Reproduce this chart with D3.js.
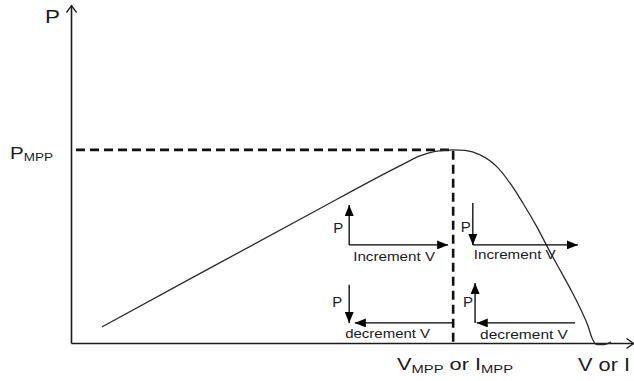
<!DOCTYPE html>
<html>
<head>
<meta charset="utf-8">
<script src="https://cdn.jsdelivr.net/npm/d3@7"></script>
<style>
  html, body { margin: 0; padding: 0; background: #fff; }
  svg { display: block; font-family: "Liberation Sans", Arial, sans-serif; }
</style>
</head>
<body>
<svg id="chart" width="634" height="381"></svg>
<script>
// P–V characteristic of a PV source, with the hill-climbing rules around the MPP
const voltage = [5.5, 22.9, 42.5, 58.5, 62.1, 64.8, 68.0, 70.1, 72.8, 75.8, 78.1, 80.4,
                 82.9, 85.05, 87.2, 89.15, 90.75, 92.0, 92.7, 93.6, 94.8, 96.1];
const power   = [8.3, 35.9, 66.8, 91.7, 96.9, 99.2, 100, 99.7, 97.4, 91.2, 82.9, 72.5,
                 60.1, 48.2, 36.8, 26.4, 17.1, 8.8, 2.6, -0.8, -0.8, 0.5];
const vMpp = 68.0;
const pMpp = 100;
const stepTexts = ["Increment V", "Increment V", "decrement V", "decrement V"];

const svg = d3.select("#chart");
const ink = "#1c1c1c";

const x = d3.scaleLinear().domain([0, 100]).range([71, 633]);
const y = d3.scaleLinear().domain([0, 175]).range([343, 5]);

// markers: open chevrons for the axes, filled heads for the step arrows
const defs = svg.append("defs");
defs.append("marker").attr("id", "chev")
  .attr("markerUnits", "userSpaceOnUse")
  .attr("markerWidth", 14).attr("markerHeight", 14)
  .attr("refX", 8).attr("refY", 6).attr("orient", "auto")
  .append("path").attr("d", "M1,1L8,6L1,11")
  .attr("fill", "none").attr("stroke", ink).attr("stroke-width", 1.3);
defs.append("marker").attr("id", "head")
  .attr("markerUnits", "userSpaceOnUse")
  .attr("markerWidth", 12).attr("markerHeight", 9)
  .attr("refX", 11).attr("refY", 4.5).attr("orient", "auto")
  .append("path").attr("d", "M0,0L11,4.5L0,9Z").attr("fill", "#000");

// axes without ticks, just the arrows
const xAxis = svg.append("g").attr("transform", `translate(0,${y(0)})`)
  .call(d3.axisBottom(x).tickValues([]).tickSizeOuter(0));
const yAxis = svg.append("g").attr("transform", `translate(${x(0)},0)`)
  .call(d3.axisLeft(y).tickValues([]).tickSizeOuter(0));
[xAxis, yAxis].forEach(g => g.select(".domain")
  .attr("stroke", ink).attr("stroke-width", 1.6)
  .attr("marker-end", "url(#chev)"));

// MPP guide lines
svg.append("path")
  .attr("d", `M${x(0) + 5},${y(pMpp)}H${x(vMpp)}V${y(0)}`)
  .attr("fill", "none").attr("stroke", "#111")
  .attr("stroke-width", 2.6).attr("stroke-dasharray", "9,5");

// P–V curve
const pts = voltage.map((v, i) => [v, power[i]]);
svg.append("path").datum(pts)
  .attr("d", d3.line().x(d => x(d[0])).y(d => y(d[1])).curve(d3.curveMonotoneX))
  .attr("fill", "none").attr("stroke", "#2a2a2a").attr("stroke-width", 1.3);

// step arrows: vertical (change in P) and horizontal (change in V)
const steps = [
  { vert: [[49.5, 50.8], [49.5, 71.5]], horiz: [[49.5, 50.8], [67.1, 50.8]],
    p: [-6, -12], t: [4, 16], w: 82 },
  { vert: [[71.5, 72.5], [71.5, 50.8]], horiz: [[71.5, 50.8], [90.2, 50.8]],
    p: [-2, -13], t: [1, 14], w: 82 },
  { vert: [[49.5, 30.1], [49.5, 10.4]], horiz: [[68.0, 10.4], [50.5, 10.4]],
    p: [-7, -16], t: [-4, 15], w: 85 },
  { vert: [[71.9, 10.4], [71.9, 31.1]], horiz: [[89.7, 10.4], [72.2, 10.4]],
    p: [-2, -16], t: [5, 16], w: 88 }
];

function fitText(sel, width) {
  const n = sel.node().getComputedTextLength();
  return width / n;
}

steps.forEach((s, i) => {
  const g = svg.append("g");
  [s.vert, s.horiz].forEach(seg => {
    g.append("line")
      .attr("x1", x(seg[0][0])).attr("y1", y(seg[0][1]))
      .attr("x2", x(seg[1][0])).attr("y2", y(seg[1][1]))
      .attr("stroke", "#000").attr("stroke-width", 1.3)
      .attr("marker-end", "url(#head)");
  });
  const cx = x(s.vert[0][0]);
  const cy = y(s.horiz[0][1]);
  g.append("text").attr("x", cx + s.p[0]).attr("y", cy + s.p[1])
    .attr("text-anchor", "end").attr("font-size", 15).attr("fill", ink).text("P");
  const t = g.append("text").attr("font-size", 13).attr("fill", ink).text(stepTexts[i]);
  const k = fitText(t, s.w);
  t.attr("transform", `translate(${cx + s.t[0]},${cy + s.t[1]}) scale(${k},1)`);
});

// labels with subscripts
function label(parts, px, py, size, subSize, subDy, width) {
  const t = svg.append("text").attr("font-size", size).attr("fill", ink);
  let shifted = false;
  parts.forEach(p => {
    const ts = t.append("tspan").text(p.t);
    if (p.sub) {
      ts.attr("font-size", subSize).attr("dy", shifted ? 0 : subDy);
      shifted = true;
    } else if (shifted) {
      ts.attr("dy", -subDy);
      shifted = false;
    }
  });
  const k = width ? fitText(t, width) : 1;
  t.attr("transform", `translate(${px},${py}) scale(${k},1)`);
  return t;
}

label([{ t: "P" }], 45, 23, 18, 0, 0, 15);
label([{ t: "P" }, { t: "MPP", sub: true }], 10, y(pMpp) + 9, 16, 10.5, 2, 43);
label([{ t: "V" }, { t: "MPP", sub: true }, { t: " or I" }, { t: "MPP", sub: true }],
      397, 370, 17, 11.5, 3, 116);
label([{ t: "V or I" }], 578, 371, 17.5, 0, 0, 52);
</script>
</body>
</html>
